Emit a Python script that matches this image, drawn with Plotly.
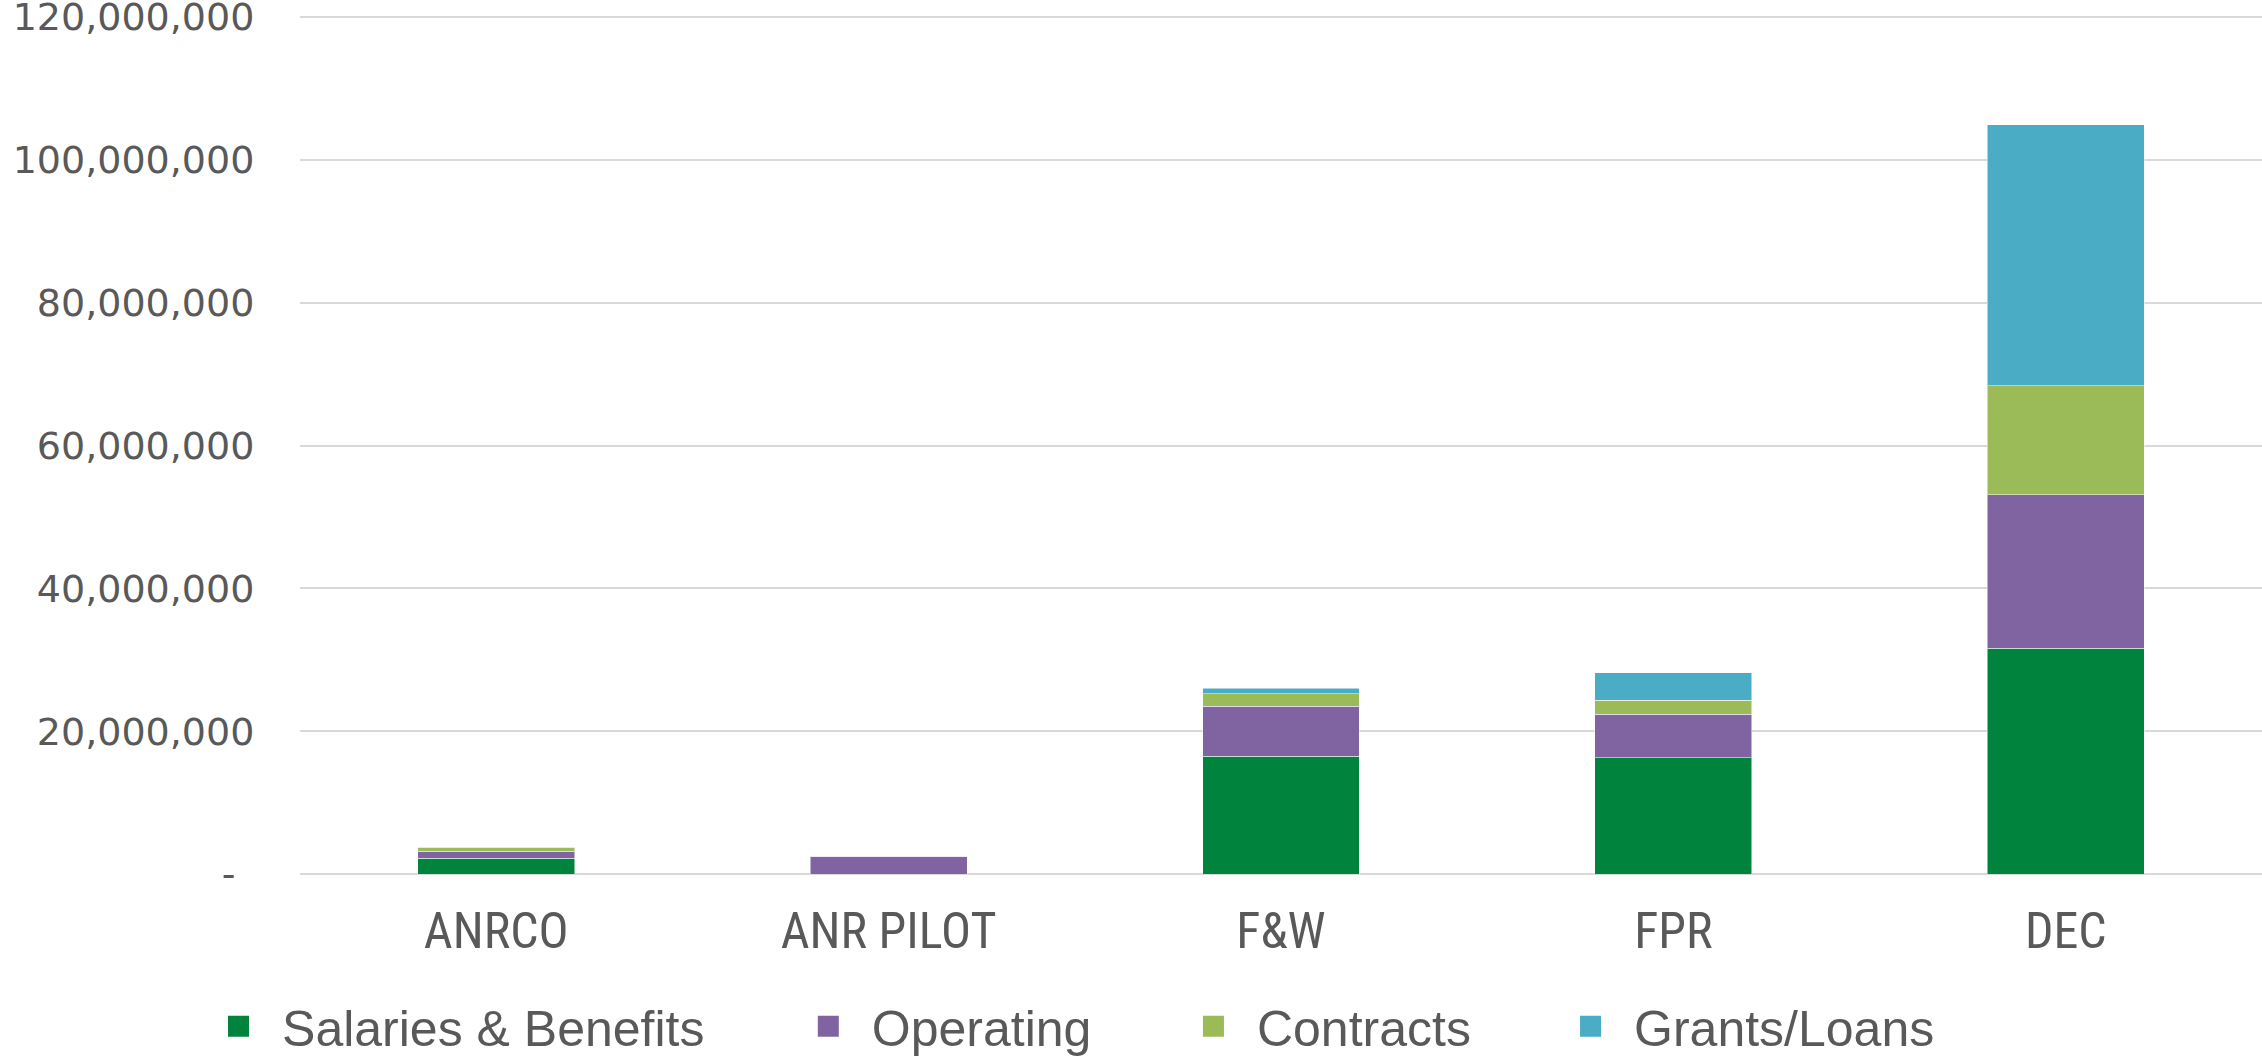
import plotly.graph_objects as go

categories = ["ANRCO", "ANR PILOT", "F&W", "FPR", "DEC"]
salaries = [2200000, 0, 16500000, 16300000, 31600000]
operating = [1000000, 2500000, 7000000, 6100000, 21500000]
contracts = [550000, 0, 1750000, 1900000, 15250000]
grants = [50000, 0, 750000, 3900000, 36600000]

series_names = ["Salaries & Benefits", "Operating", "Contracts", "Grants/Loans"]
series_values = [salaries, operating, contracts, grants]
colors = ["#00843D", "#8064A2", "#9BBB59", "#4BACC6"]

y_tickvals = [0, 20000000, 40000000, 60000000, 80000000, 100000000, 120000000]
y_ticktext = ["-\u2002", "20,000,000", "40,000,000", "60,000,000",
              "80,000,000", "100,000,000", "120,000,000"]

legend_x = [-0.0535, 0.2471, 0.4434, 0.6356]

fig = go.Figure()
for name, vals, col in zip(series_names, series_values, colors):
    fig.add_trace(go.Bar(
        x=categories, y=vals, name=name, marker_color=col,
        marker_line=dict(width=1, color="rgba(255,255,255,0.5)"),
        showlegend=False,
    ))

legend_names = ["legend", "legend2", "legend3", "legend4"]
for i, (name, col) in enumerate(zip(series_names, colors)):
    fig.add_trace(go.Scatter(
        x=[None], y=[None], mode="markers", name=name,
        marker=dict(symbol="square", size=16, color=col, line=dict(width=5, color=col)),
        showlegend=True, legend=legend_names[i],
    ))

text_color = "#595959"
legend_common = dict(
    orientation="h", y=-0.1762, yanchor="middle", xanchor="left",
    font=dict(family="Liberation Sans, Arial, sans-serif", size=50, color=text_color),
    itemwidth=77, bgcolor="rgba(0,0,0,0)", borderwidth=0,
)

fig.update_layout(
    width=2262, height=1057,
    margin=dict(l=300, r=0, t=10, b=183, autoexpand=False),
    paper_bgcolor="white", plot_bgcolor="white",
    barmode="stack", bargap=0.6,
    legend=dict(x=legend_x[0], **legend_common),
    legend2=dict(x=legend_x[1], **legend_common),
    legend3=dict(x=legend_x[2], **legend_common),
    legend4=dict(x=legend_x[3], **legend_common),
    xaxis=dict(
        tickfont=dict(family="Liberation Sans Narrow, Roboto Condensed, Liberation Sans, sans-serif",
                      size=50, color=text_color),
        showline=False, ticks="outside", ticklen=13, tickcolor="rgba(0,0,0,0)",
        automargin=False,
    ),
    yaxis=dict(
        range=[0, 121000000], tickvals=y_tickvals, ticktext=y_ticktext,
        tickfont=dict(family="DejaVu Sans, sans-serif", size=38, color=text_color),
        showgrid=True, gridcolor="#d9d9d9", gridwidth=2,
        zeroline=True, zerolinecolor="#d9d9d9", zerolinewidth=2,
        ticks="outside", ticklen=37, tickcolor="rgba(0,0,0,0)",
        showline=False, automargin=False, ticklabeloverflow="allow",
    ),
)

fig.write_html("out.html", config={"displayModeBar": False},
               post_script="document.body.style.margin='0';")
